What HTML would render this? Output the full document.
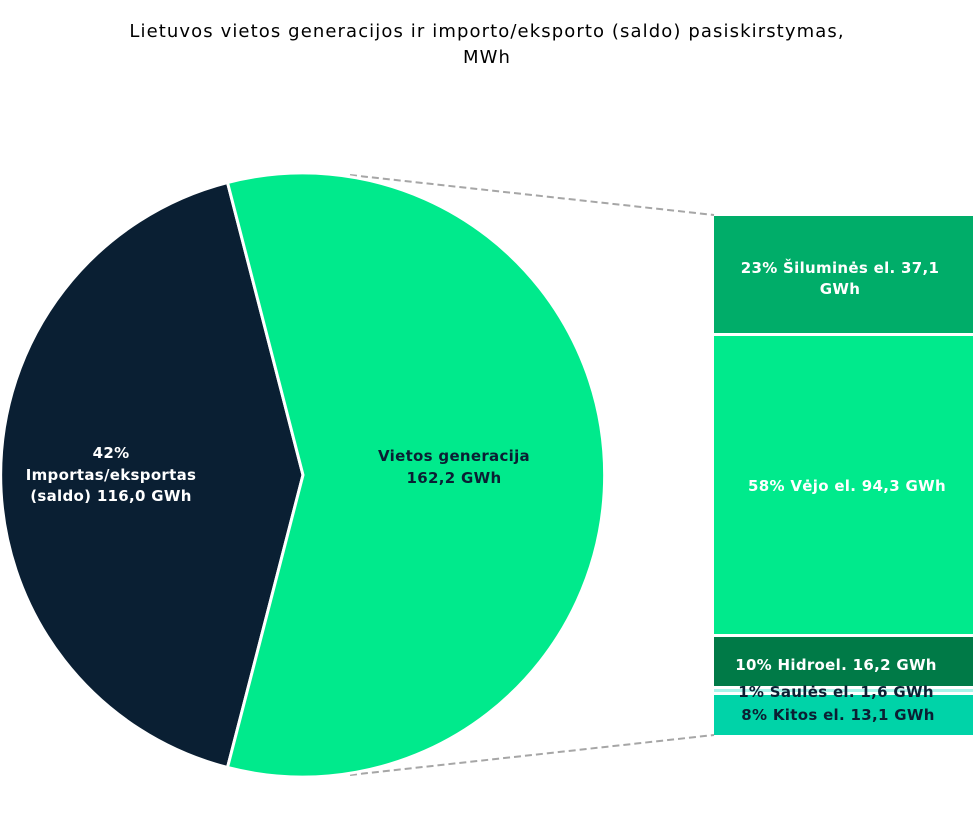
<!DOCTYPE html>
<html><head><meta charset="utf-8"><style>
html,body{margin:0;padding:0;background:#fff;}
svg{display:block;font-family:"DejaVu Sans","Liberation Sans",sans-serif;}
</style></head><body>
<svg width="973" height="814" viewBox="0 0 973 814" xmlns="http://www.w3.org/2000/svg">
<text x="487" y="37" text-anchor="middle" font-size="18" letter-spacing="1.1" fill="#000">Lietuvos vietos generacijos ir importo/eksporto (saldo) pasiskirstymas,</text>
<text x="487" y="63" text-anchor="middle" font-size="18" letter-spacing="1.1" fill="#000">MWh</text>
<line x1="350" y1="175" x2="714" y2="215" stroke="#a6a6a6" stroke-width="2" stroke-dasharray="7,4"/>
<line x1="350" y1="775" x2="714" y2="735" stroke="#a6a6a6" stroke-width="2" stroke-dasharray="7,4"/>
<path d="M303,475 L227.5,182.5 A302,302 0 0,0 227.5,767.5 Z" fill="#0a1f33" stroke="#fff" stroke-width="3"/>
<path d="M303,475 L227.5,182.5 A302,302 0 1,1 227.5,767.5 Z" fill="#00ea8c" stroke="#fff" stroke-width="3"/>
<g font-size="15" font-weight="bold" text-anchor="middle" letter-spacing="0.3">
<text x="111" y="458" fill="#fff">42%</text>
<text x="111" y="480" fill="#fff">Importas/eksportas</text>
<text x="111" y="501" fill="#fff">(saldo)  116,0 GWh</text>
<text x="454" y="461" fill="#0a1f33">Vietos generacija</text>
<text x="454" y="483" fill="#0a1f33">162,2 GWh</text>
</g>
<rect x="714" y="216" width="259" height="117" fill="#00ad69"/>
<rect x="714" y="336" width="259" height="298" fill="#00ea8c"/>
<rect x="714" y="637" width="259" height="49" fill="#007a47"/>
<rect x="714" y="689" width="259" height="3" fill="#a8f5ea"/>
<rect x="714" y="695" width="259" height="40" fill="#00d3a8"/>
<g font-size="15" font-weight="bold" text-anchor="middle" letter-spacing="0.3">
<text x="840" y="273" fill="#fff">23% Šiluminės el.  37,1</text>
<text x="840" y="294" fill="#fff">GWh</text>
<text x="847" y="491" fill="#fff">58% Vėjo el.  94,3 GWh</text>
<text x="836" y="670" fill="#fff">10% Hidroel.  16,2 GWh</text>
<text x="836" y="697" fill="#0a1f33">1% Saulės el.  1,6 GWh</text>
<text x="838" y="720" fill="#0a1f33">8% Kitos el.  13,1 GWh</text>
</g>
</svg>
</body></html>
